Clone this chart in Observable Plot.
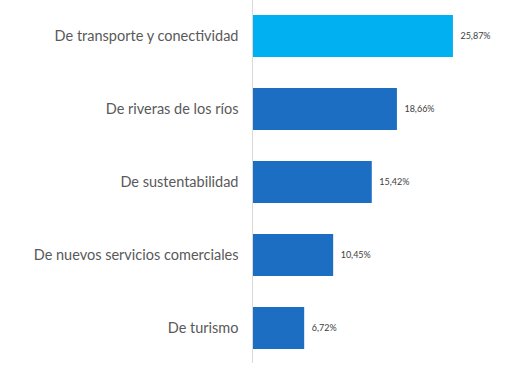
<!DOCTYPE html>
<html><head><meta charset="utf-8">
<script src="https://cdn.jsdelivr.net/npm/d3@7"></script>
<script src="https://cdn.jsdelivr.net/npm/@observablehq/plot@0.6"></script>
<style>body{margin:0;background:#fff}</style>
</head><body><div id="chart"></div>
<script>
const categories = ["De transporte y conectividad","De riveras de los ríos","De sustentabilidad","De nuevos servicios comerciales","De turismo"];
const values = [25.87, 18.66, 15.42, 10.45, 6.72];
const labels = ["25,87%","18,66%","15,42%","10,45%","6,72%"];
const colors = ["#00B0F0","#1B6EC2","#1B6EC2","#1B6EC2","#1B6EC2"];
const data = categories.map((c,i)=>({cat:c, v:values[i], label:labels[i], color:colors[i]}));
const chart = Plot.plot({
  width: 519, height: 368,
  marginLeft: 252, marginRight: 34, marginTop: 0, marginBottom: 5,
  style: {fontFamily: "Lato, 'Open Sans', sans-serif", background: "#fff"},
  x: {domain: [0, 30], axis: null},
  y: {domain: categories, paddingInner: 0.43, paddingOuter: 0.185, label: null},
  marks: [
    Plot.barX(data, {x: "v", y: "cat", fill: d => d.color}),
    Plot.ruleX([0], {stroke: "#d9d9d9", strokeWidth: 1}),
    Plot.text(data, {x: "v", y: "cat", text: "label", dx: 7, textAnchor: "start", fontSize: 9, fill: "#404040"}),
    Plot.axisY({tickSize: 0, tickPadding: 14, fontSize: 14.5, color: "#595959", label: null})
  ]
});
document.getElementById("chart").append(chart);
</script></body></html>
